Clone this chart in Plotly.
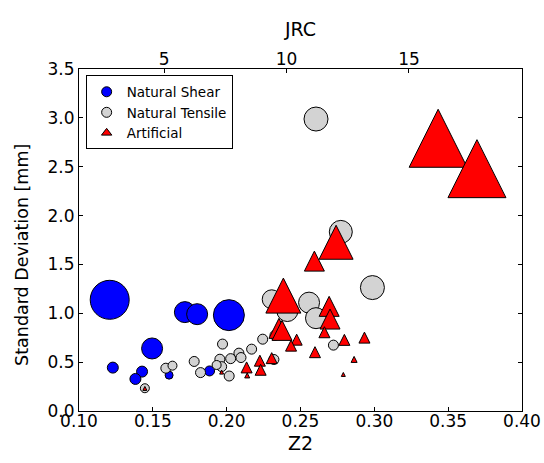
import plotly.graph_objects as go

# ---------------- data ----------------
shear_z2 = [0.1208, 0.1229, 0.1427, 0.1382, 0.1495, 0.1610, 0.1717, 0.1800, 0.2015, 0.1884]
shear_sd = [1.138, 0.444, 0.403, 0.328, 0.640, 0.367, 1.012, 0.991, 0.981, 0.410]
shear_sz = [39, 11, 11, 11, 21, 8, 21, 21, 31, 10]

tens_z2 = [0.1446, 0.1588, 0.1633, 0.1780, 0.1972, 0.1823, 0.1954, 0.1966, 0.1932, 0.2017,
           0.2027, 0.2083, 0.2097, 0.2169, 0.2244, 0.2320, 0.2327, 0.2305, 0.2411, 0.2558,
           0.2605, 0.2723, 0.2987, 0.2605, 0.2773]
tens_sd = [0.233, 0.438, 0.464, 0.507, 0.685, 0.393, 0.530, 0.454, 0.471, 0.358,
           0.536, 0.592, 0.547, 0.633, 0.735, 0.527, 0.774, 1.143, 1.023, 1.109,
           0.950, 0.674, 1.263, 2.988, 1.833]
tens_sz = [9, 10, 9, 10, 10, 10, 10, 10, 9, 10,
           10, 10, 10, 10, 10, 10, 10, 19, 21, 21,
           21, 10, 24, 24, 23]

art_z2 = [0.3432, 0.3695, 0.2741, 0.2594, 0.2384, 0.2354, 0.2375, 0.2694, 0.2700, 0.2662,
          0.2474, 0.2436, 0.2598, 0.2797, 0.2225, 0.2230, 0.2305, 0.2135, 0.2139, 0.2863,
          0.2790, 0.2933, 0.1446, 0.1966]
art_sd = [2.791, 2.480, 1.727, 1.534, 1.181, 0.846, 0.825, 1.071, 0.941, 0.806,
          0.730, 0.669, 0.602, 0.728, 0.515, 0.422, 0.541, 0.446, 0.364, 0.528,
          0.374, 0.751, 0.231, 0.398]
art_sz = [58, 58, 34, 20, 35, 20, 20, 20, 20, 11,
          11, 11, 11, 11, 11, 11, 11, 11, 5, 6,
          4, 11, 4, 4]

x_ticks = [0.10, 0.15, 0.20, 0.25, 0.30, 0.35, 0.40]
y_ticks = [0.0, 0.5, 1.0, 1.5, 2.0, 2.5, 3.0, 3.5]
jrc_ticks = [5, 10, 15]
# JRC = 60.32*Z2 - 4.51
jrc_pos = [(j + 4.51) / 60.32 for j in jrc_ticks]

FONT = "DejaVu Sans"

fig = go.Figure()

fig.add_trace(go.Scatter(
    x=shear_z2, y=shear_sd, mode="markers", name="Natural Shear", showlegend=False,
    marker=dict(symbol="circle", size=shear_sz, color="#0000ff", opacity=1,
                line=dict(color="black", width=1))))
fig.add_trace(go.Scatter(
    x=tens_z2, y=tens_sd, mode="markers", name="Natural Tensile", showlegend=False,
    marker=dict(symbol="circle", size=tens_sz, color="#d3d3d3", opacity=1,
                line=dict(color="black", width=1))))
fig.add_trace(go.Scatter(
    x=art_z2, y=art_sd, mode="markers", name="Artificial", showlegend=False,
    marker=dict(symbol="arrow-down", angle=180, standoff=[s / 2 for s in art_sz],
                size=art_sz, color="#ff0000", opacity=1,
                line=dict(color="black", width=1))))

# legend entries
for nm, sym, col, sz in [("Natural Shear", "circle", "#0000ff", 10),
                         ("Natural Tensile", "circle", "#d3d3d3", 10),
                         ("Artificial", "triangle-up", "#ff0000", 9)]:
    fig.add_trace(go.Scatter(
        x=[None], y=[None], xaxis="x2", mode="markers", name=nm,
        marker=dict(symbol=sym, size=sz, color=col, opacity=1,
                    line=dict(color="black", width=1))))

fig.update_layout(
    width=544, height=463,
    margin=dict(l=79, r=22, t=69, b=52, autoexpand=False),
    paper_bgcolor="white", plot_bgcolor="white",
    font=dict(family=FONT, color="black", size=17),
    xaxis=dict(range=[0.1, 0.4], tickvals=x_ticks, tickformat=".2f",
               ticks="inside", ticklen=4, tickcolor="black",
               showline=True, linecolor="black", linewidth=1, mirror=True,
               showgrid=False, zeroline=False, automargin=False,
               ticklabelstandoff=-5,
               tickfont=dict(size=17, family=FONT),
               title=dict(text="Z2", font=dict(size=19, family=FONT), standoff=6)),
    xaxis2=dict(range=[0.1, 0.4], overlaying="x", side="top", anchor="y",
                tickvals=jrc_pos, ticktext=[str(j) for j in jrc_ticks],
                ticks="inside", ticklen=4, tickcolor="black",
                showline=False, showgrid=False, zeroline=False, automargin=False,
                tickfont=dict(size=17, family=FONT),
                title=dict(text="JRC", font=dict(size=19, family=FONT), standoff=6)),
    yaxis=dict(range=[0, 3.5], tickvals=y_ticks, tickformat=".1f",
               ticks="inside", ticklen=4, tickcolor="black",
               showline=True, linecolor="black", linewidth=1, mirror="ticks",
               showgrid=False, zeroline=False, automargin=False,
               tickfont=dict(size=17, family=FONT)),
    annotations=[dict(text="Standard Deviation [mm]", textangle=-90,
                      xref="paper", yref="paper", x=-0.129, y=0.456,
                      xanchor="center", yanchor="middle", showarrow=False,
                      font=dict(size=17.5, family=FONT, color="black"))],
    legend=dict(x=0.015, y=0.981, xanchor="left", yanchor="top",
                bordercolor="black", borderwidth=1, bgcolor="white",
                font=dict(size=13.5, family=FONT), tracegroupgap=0),
    showlegend=True,
)

fig.write_html("out.html")
